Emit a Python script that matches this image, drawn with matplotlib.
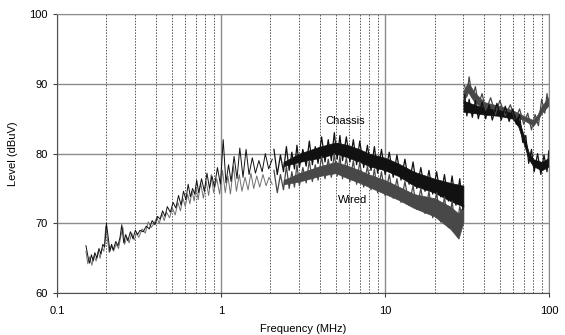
## Conducted / radiated emission levels, chassis vs wired grounding
import matplotlib.pyplot as plt
from matplotlib.ticker import FixedLocator, NullFormatter

plt.rcParams['font.family'] = ['Liberation Sans', 'DejaVu Sans']

## Low frequency part: single noisy traces (MHz, dBuV)
chassis_f_low = [0.150, 0.155, 0.158, 0.162, 0.166, 0.170, 0.175, 0.180, 0.185, 0.190,
                 0.195, 0.200, 0.205, 0.210, 0.215, 0.220, 0.228, 0.235, 0.242, 0.248,
                 0.255, 0.262, 0.270, 0.280, 0.290, 0.300, 0.310, 0.320, 0.335, 0.350,
                 0.365, 0.380, 0.395, 0.410, 0.425, 0.440, 0.455, 0.470, 0.490, 0.510,
                 0.530, 0.550, 0.570, 0.590, 0.610, 0.630, 0.650, 0.670, 0.690, 0.710,
                 0.730, 0.760, 0.790, 0.820, 0.850, 0.880, 0.910, 0.950, 0.990, 1.03,
                 1.07, 1.11, 1.15, 1.20, 1.25, 1.30, 1.36, 1.42, 1.48, 1.55,
                 1.62, 1.70, 1.78, 1.86, 1.95, 2.05]
chassis_low = [66.8, 65.0, 64.3, 65.5, 64.6, 65.8, 65.0, 66.4, 65.6, 67.0,
               66.6, 70.0, 68.0, 66.0, 67.0, 66.2, 67.4, 66.8, 68.0, 69.8,
               67.2, 68.4, 67.5, 68.8, 67.8, 69.0, 68.4, 69.0, 68.8, 69.6,
               69.2, 70.4, 69.8, 71.0, 70.6, 71.8, 71.0, 72.4, 71.6, 73.0,
               72.2, 74.0, 72.6, 74.6, 73.4, 75.6, 73.8, 75.0, 74.2, 76.2,
               74.4, 76.4, 74.6, 77.2, 75.0, 76.8, 75.2, 78.0, 75.6, 82.0,
               75.8, 78.4, 76.0, 79.6, 76.4, 80.8, 76.6, 80.6, 77.0, 79.4,
               77.2, 79.0, 77.4, 80.0, 77.8, 79.2]

wired_f_low = [0.150, 0.154, 0.158, 0.163, 0.168, 0.173, 0.178, 0.183, 0.188, 0.193,
               0.198, 0.203, 0.208, 0.214, 0.221, 0.229, 0.237, 0.245, 0.252, 0.258,
               0.266, 0.275, 0.285, 0.295, 0.305, 0.315, 0.330, 0.345, 0.360, 0.375,
               0.390, 0.405, 0.420, 0.435, 0.450, 0.465, 0.485, 0.505, 0.525, 0.545,
               0.565, 0.585, 0.605, 0.625, 0.645, 0.665, 0.685, 0.705, 0.725, 0.750,
               0.780, 0.810, 0.840, 0.870, 0.900, 0.940, 0.980, 1.02, 1.06, 1.10,
               1.14, 1.19, 1.24, 1.29, 1.34, 1.40, 1.46, 1.52, 1.58, 1.65,
               1.72, 1.80, 1.88, 1.96, 2.05]
wired_low = [66.0, 64.2, 65.2, 64.0, 65.4, 64.6, 66.0, 65.0, 66.4, 66.0,
             69.6, 67.6, 65.8, 66.8, 66.0, 67.0, 66.4, 68.2, 69.4, 67.0,
             68.0, 67.2, 68.6, 67.6, 68.6, 68.0, 69.2, 68.6, 70.2, 69.4,
             70.0, 70.8, 70.0, 71.4, 70.4, 71.6, 70.8, 72.2, 71.2, 73.0,
             71.8, 73.6, 72.4, 74.2, 72.8, 74.6, 73.2, 75.0, 73.4, 75.8,
             73.6, 76.0, 74.0, 77.0, 74.4, 76.4, 74.2, 77.6, 74.4, 76.8,
             74.2, 78.2, 74.6, 77.0, 74.6, 76.6, 74.8, 77.2, 75.0, 76.8,
             75.2, 77.0, 75.4, 76.6, 75.6]

## Dense part below 30 MHz: envelope of the trace
chassis_band_f = [2.4, 3, 4, 5, 6, 7, 8, 10, 12, 15, 20, 25, 30]
chassis_band_hi = [78.8, 80.0, 81.0, 81.6, 81.2, 80.6, 80.0, 79.4, 78.6, 77.4, 76.4, 75.8, 75.4]
chassis_band_lo = [78.2, 78.8, 79.4, 80.0, 79.4, 78.8, 78.2, 77.6, 76.8, 75.4, 74.4, 73.2, 72.4]

wired_band_f = [2.4, 3, 4, 5, 6, 7, 8, 10, 12, 15, 20, 25, 28, 30]
wired_band_hi = [76.2, 77.2, 78.2, 78.8, 78.2, 77.6, 77.0, 76.2, 75.3, 74.2, 73.6, 72.4, 71.4, 72.6]
wired_band_lo = [75.6, 76.0, 76.8, 77.2, 76.4, 75.8, 75.2, 74.2, 73.4, 72.2, 71.0, 69.2, 67.8, 70.2]

## jagged edges of the dense trace
chassis_zig_f = [2.1, 2.2, 2.3, 2.4, 2.5, 2.6, 2.7, 2.8, 2.9, 3.0, 3.15, 3.3, 3.45, 3.6,
                 3.75, 3.9, 4.1, 4.3, 4.5, 4.7, 4.9, 5.1, 5.3, 5.5, 5.8, 6.1, 6.4, 6.7,
                 7.0, 7.4, 7.8, 8.2, 8.6, 9.0, 9.5, 10.0, 10.6, 11.2, 11.8, 12.5, 13.2,
                 14.0, 14.8, 15.6, 16.5, 17.5, 18.5, 19.5, 20.6, 21.8, 23.0, 24.3, 25.6,
                 27.0, 28.5, 29.8]
chassis_zig = [80.6, 77.0, 79.8, 77.4, 81.0, 77.6, 80.2, 77.8, 81.2, 78.0, 80.6, 78.2,
               81.8, 78.4, 81.0, 78.6, 82.4, 78.8, 82.0, 79.0, 83.0, 79.2, 82.6, 79.0,
               82.4, 78.8, 82.0, 78.4, 81.8, 78.0, 81.2, 77.6, 81.0, 77.2, 80.6, 77.0,
               80.2, 76.6, 79.8, 76.2, 79.2, 75.6, 78.8, 75.0, 78.0, 74.6, 77.6, 74.2,
               77.4, 73.8, 77.0, 73.2, 76.8, 72.6, 76.4, 72.0]

wired_zig_f = chassis_zig_f
wired_zig = [77.6, 74.4, 77.0, 74.8, 78.2, 75.0, 77.4, 75.2, 78.4, 75.4, 78.0, 75.8,
             79.0, 76.0, 78.4, 76.2, 79.6, 76.4, 79.2, 76.6, 80.0, 76.8, 79.6, 76.4,
             79.4, 76.0, 79.0, 75.6, 78.8, 75.2, 78.2, 74.8, 77.8, 74.4, 77.4, 74.0,
             77.0, 73.6, 76.4, 73.0, 76.0, 72.6, 75.4, 72.0, 75.0, 71.4, 74.6, 70.8,
             74.4, 70.2, 73.8, 69.4, 73.2, 68.6, 72.4, 70.4]

## Above 30 MHz
chassis_hf_f = [30, 35, 40, 50, 60, 65, 70, 75, 80, 90, 100]
chassis_hf_hi = [87.6, 87.0, 86.6, 86.2, 85.8, 85.0, 82.6, 80.2, 79.2, 78.8, 79.4]
chassis_hf_lo = [86.0, 85.8, 85.6, 85.4, 85.0, 83.8, 81.4, 79.2, 78.2, 77.6, 78.2]

wired_hf_f = [30, 32, 35, 40, 50, 60, 70, 80, 85, 90, 100]
wired_hf_hi = [89.0, 90.2, 88.8, 87.4, 86.8, 86.2, 85.4, 84.8, 85.6, 86.8, 88.2]
wired_hf_lo = [87.4, 88.8, 87.4, 86.4, 86.0, 85.4, 84.8, 84.0, 84.8, 85.8, 87.0]

chassis_hfzig_f = [30.5, 31.5, 32.5, 34, 35.5, 37, 39, 41, 43, 45, 48, 51, 54, 57,
                   60, 63, 66, 69, 72, 75, 78, 81, 85, 89, 93, 97, 99.5]
chassis_hfzig = [88.4, 85.4, 87.8, 85.2, 87.6, 85.0, 87.4, 85.0, 87.0, 84.8, 87.2, 84.8,
                 86.8, 84.6, 86.4, 84.2, 85.6, 81.6, 82.6, 78.6, 80.6, 77.4, 80.0, 77.0,
                 79.8, 77.4, 80.4]

wired_hfzig_f = [30.5, 31.5, 32.5, 34, 35.5, 37, 39, 41, 44, 47, 50, 54, 58, 62,
                 66, 70, 74, 78, 82, 86, 90, 94, 97, 99.5]
wired_hfzig = [89.8, 88.2, 91.0, 88.0, 89.6, 87.0, 88.6, 86.2, 88.0, 85.6, 87.6, 85.4,
               87.0, 84.8, 86.4, 84.2, 85.8, 83.4, 85.6, 84.0, 87.8, 85.8, 88.6, 86.8]

minor_ticks = [0.2, 0.3, 0.4, 0.5, 0.6, 0.7, 0.8, 0.9,
               2, 3, 4, 5, 6, 7, 8, 9, 20, 30, 40, 50, 60, 70, 80, 90]

fig = plt.figure(figsize=(5.65, 3.35), dpi=100)
ax = fig.add_axes([0.101, 0.125, 0.871, 0.833])

wired_col = '#484848'
chassis_col = '#111111'

# wired first, chassis on top
ax.plot(wired_f_low, wired_low, color='#707070', lw=0.7)
ax.fill_between(wired_band_f, wired_band_lo, wired_band_hi, color=wired_col, lw=0.5)
ax.plot(wired_zig_f, wired_zig, color=wired_col, lw=0.9)
ax.fill_between(wired_hf_f, wired_hf_lo, wired_hf_hi, color=wired_col, lw=0.5)
ax.plot(wired_hfzig_f, wired_hfzig, color=wired_col, lw=0.9)

ax.plot(chassis_f_low, chassis_low, color=chassis_col, lw=0.7)
ax.fill_between(chassis_band_f, chassis_band_lo, chassis_band_hi, color=chassis_col, lw=0.5)
ax.plot(chassis_zig_f, chassis_zig, color=chassis_col, lw=0.9)
ax.fill_between(chassis_hf_f, chassis_hf_lo, chassis_hf_hi, color=chassis_col, lw=0.5)
ax.plot(chassis_hfzig_f, chassis_hfzig, color=chassis_col, lw=0.9)

ax.text(5.7, 84.7, 'Chassis', fontsize=8, ha='center', va='center')
ax.text(6.3, 73.3, 'Wired', fontsize=8, ha='center', va='center')

ax.set_xscale('log')
ax.set_xlim(0.1, 100)
ax.set_ylim(60, 100)
ax.xaxis.set_major_locator(FixedLocator([0.1, 1, 10, 100]))
ax.set_xticklabels(['0.1', '1', '10', '100'])
ax.xaxis.set_minor_locator(FixedLocator(minor_ticks))
ax.xaxis.set_minor_formatter(NullFormatter())
ax.set_yticks([60, 70, 80, 90, 100])

ax.grid(True, which='major', color='#8c8c8c', lw=1.0, ls='-')
ax.grid(True, which='minor', axis='x', color='#555555', lw=0.7, ls=(0, (1.5, 1.5)))
ax.set_axisbelow(True)

ax.tick_params(which='major', length=3, width=0.8, labelsize=8, color='#404040')
ax.tick_params(which='minor', length=0)
ax.tick_params(axis='x', pad=6)
for side in ['left', 'bottom']:
    ax.spines[side].set_color('#505050')
for side in ['top', 'right']:
    ax.spines[side].set_color('#8c8c8c')

ax.set_xlabel('Frequency (MHz)', fontsize=8, labelpad=6)
ax.set_ylabel('Level (dBuV)', fontsize=8, labelpad=8)

plt.savefig('out.png', dpi=100)
